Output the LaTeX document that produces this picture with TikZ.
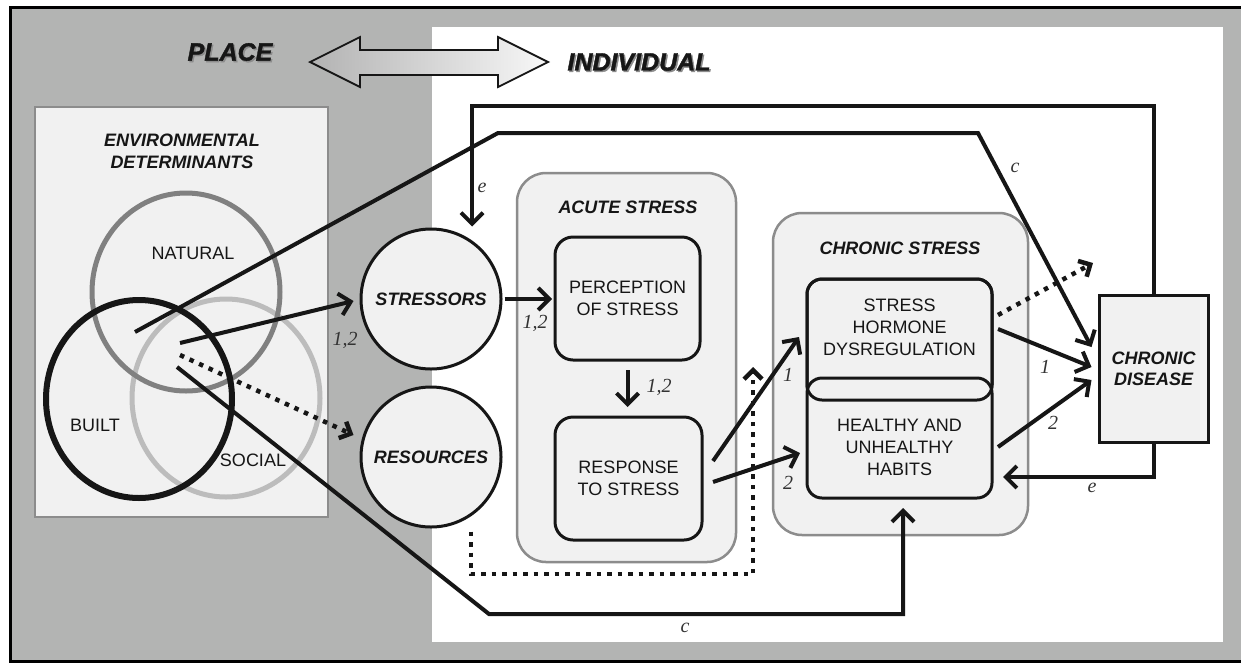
\documentclass[tikz,border=0pt]{standalone}
\usepackage{fontspec}
\setmainfont{Liberation Sans}
\newfontfamily\labelserif{Liberation Serif}
\newfontfamily\heavyfont[FakeBold=1.5]{Liberation Sans}
\usetikzlibrary{arrows.meta,calc}
\definecolor{bggray}{RGB}{179,180,179}
\definecolor{boxfill}{RGB}{241,241,241}
\definecolor{boxedge}{RGB}{140,140,140}
\definecolor{natcol}{RGB}{128,128,128}
\definecolor{soccol}{RGB}{188,188,188}
\definecolor{ink}{RGB}{22,22,22}
\begin{document}
\begin{tikzpicture}[x=1pt,y=-1pt,
  sans/.style={font=\fontsize{18}{22}\selectfont, align=center, inner sep=0pt, text=ink},
  sansbi/.style={font=\fontsize{18}{22}\selectfont\bfseries\itshape, align=center, inner sep=0pt, text=ink},
  titlefont/.style={font=\heavyfont\fontsize{25}{28}\selectfont\bfseries\itshape, inner sep=0pt},
  numlbl/.style={font=\labelserif\itshape\fontsize{20}{22}\selectfont, inner sep=0pt, text=black!80},
  outerbox/.style={draw=boxedge, fill=boxfill, line width=2.5pt, rounded corners=29pt, inner sep=0pt},
  innerbox/.style={draw=ink, fill=boxfill, line width=3pt, rounded corners=18pt, inner sep=0pt, outer sep=0pt},
  circnode/.style={circle, draw=ink, fill=boxfill, line width=3pt, minimum size=140pt, inner sep=0pt,
    font=\fontsize{18}{22}\selectfont\bfseries\itshape, text=ink},
  conn/.style={draw=ink, line width=4pt, -{Straight Barb[length=11pt,width=22pt]}},
  dotconn/.style={draw=ink, line width=4.5pt, dash pattern=on 4.5pt off 6pt, -{Straight Barb[length=9pt,width=18pt]}}
]
\useasboundingbox (0,0) rectangle (1241,662);
% background frame
\fill[white] (0,0) rectangle (1241,662);
\fill[bggray] (10,7) rectangle (1241,661);
\fill[white] (432,27) rectangle (1223,642);
\draw[black, line width=3pt] (1242,7) -- (10,7) -- (10,661) -- (1242,661);

% PLACE <-> INDIVIDUAL
\node[titlefont, text=black!45] at (231.5,53.5) {PLACE};
\node[titlefont, text=ink] (place) at (230,52) {PLACE};
\node[titlefont, text=black!45] at (640.5,63.5) {INDIVIDUAL};
\node[titlefont, text=ink] (individual) at (639,62) {INDIVIDUAL};
\draw[line width=1.8pt, draw=ink, left color=black!30, right color=black!3]
  (310,62) -- (360,37) -- (360,50) -- (498,50) -- (498,37) -- (548,62)
  -- (498,87) -- (498,75) -- (360,75) -- (360,87) -- cycle;

% environmental determinants
\node[draw=boxedge, fill=boxfill, line width=2pt, minimum width=293pt, minimum height=410pt, inner sep=0pt] (env) at (181.5,312) {};
\node[sansbi] (envt) at (182,151) {ENVIRONMENTAL\\DETERMINANTS};
\draw[soccol, line width=5pt] (226,398) ellipse [x radius=94, y radius=99];
\draw[natcol, line width=5pt] (186,292) ellipse [x radius=94, y radius=99];
\draw[ink, line width=6pt] (139,399) ellipse [x radius=93, y radius=99];
\node[sans] (natural) at (193,253) {NATURAL};
\node[sans] (built) at (95,425) {BUILT};
\node[sans] (social) at (253,460) {SOCIAL};

\coordinate (vA) at (135,332);
\coordinate (vB) at (180,343);
\coordinate (vC) at (180,355);
\coordinate (vD) at (177,367);

% stressors / resources
\node[circnode] (stressors) at (431,299) {STRESSORS};
\node[circnode] (resources) at (431,457) {RESOURCES};

% acute stress
\node[outerbox, minimum width=219pt, minimum height=389pt] (acute) at (626.5,367.5) {};
\node[sansbi] (acuteT) at (628,207) {ACUTE STRESS};
\node[innerbox, minimum width=145pt, minimum height=123pt, sans] (perception) at (627.5,298.5) {PERCEPTION\\OF STRESS};
\node[innerbox, minimum width=147pt, minimum height=123pt, sans] (response) at (628.5,478.5) {RESPONSE\\TO STRESS};

% chronic stress
\node[outerbox, minimum width=255pt, minimum height=322pt] (chronicS) at (900.5,374) {};
\node[sansbi] (chronicT) at (900,248) {CHRONIC STRESS};
\node[innerbox, rounded corners=15pt, minimum width=185pt, minimum height=121pt] (hormone) at (899.5,339.5) {};
\node[innerbox, rounded corners=15pt, minimum width=185pt, minimum height=120pt] (habits) at (899.5,438) {};
\draw[ink, line width=3pt, rounded corners=15pt] (hormone.south west) rectangle (hormone.north east);
\node[sans] (hormoneT) at (899.5,327.5) {STRESS\\HORMONE\\DYSREGULATION};
\node[sans] (habitsT) at (899.5,447.5) {HEALTHY AND\\UNHEALTHY\\HABITS};

% chronic disease
\node[draw=ink, fill=boxfill, line width=3pt, minimum width=109pt, minimum height=147pt, inner sep=0pt,
  font=\fontsize{18}{21}\selectfont\bfseries\itshape, align=center, text=ink] (chronic) at (1153.5,368.5) {CHRONIC\\DISEASE};

\coordinate (dotEnd) at (1093,263);
\coordinate (resDotEnd) at (753,367);

% connectors from the environment
\draw[conn] (vA) -- (498,133) -- (978,133) -- ([shift={(-6pt,21.5pt)}]chronic.west);
\draw[conn] (vB) -- ([shift={(-6pt,-2pt)}]stressors.west);
\draw[dotconn] (vC) -- ([shift={(-6pt,22pt)}]resources.west);
\draw[conn] (vD) -- (489,614) -- (903,614) -- ([shift={(3.5pt,-10pt)}]habits.south);

% feedback e lines
\draw[conn] (chronic.north) -- (1153.5,106) -- (472,106) -- ([shift={(41pt,1pt)}]stressors.north);
\draw[conn] (chronic.south) -- (1153.5,477) -- ([shift={(11pt,-39pt)}]habits.east);

% main chain
\draw[conn, shorten <=2pt, shorten >=3pt] (stressors.east) -- (stressors.east -| perception.west);
\draw[conn, shorten <=10pt, shorten >=10pt] (perception.south) -- (perception.south |- response.north);
\draw[conn] ([shift={(11pt,17.5pt)}]response.east) -- ([shift={(-8pt,2.5pt)}]hormone.west);
\draw[conn] ([shift={(11pt,-3.5pt)}]response.east) -- ([shift={(-7pt,-15pt)}]habits.west);
\draw[dotconn] ([shift={(6pt,24.5pt)}]hormone.east) -- (dotEnd);
\draw[conn] ([shift={(6pt,10.5pt)}]hormone.east) -- ([shift={(-6pt,1.5pt)}]chronic.west);
\draw[conn] ([shift={(6pt,-9pt)}]habits.east) -- ([shift={(-6pt,-11.5pt)}]chronic.west);
\draw[dotconn] ([shift={(40pt,-3pt)}]resources.south) -- (471,574) -- (753,574) -- (resDotEnd);

% labels
\node[numlbl] at (345,340) {1,2};
\node[numlbl] at (535,323) {1,2};
\node[numlbl] at (659,387) {1,2};
\node[numlbl] at (788,375) {1};
\node[numlbl] at (788,483) {2};
\node[numlbl] at (1045,367) {1};
\node[numlbl] at (1053,423) {2};
\node[numlbl] at (1015,168) {c};
\node[numlbl] at (685,628) {c};
\node[numlbl] at (482,188) {e};
\node[numlbl] at (1092,488) {e};
\end{tikzpicture}
\end{document}
